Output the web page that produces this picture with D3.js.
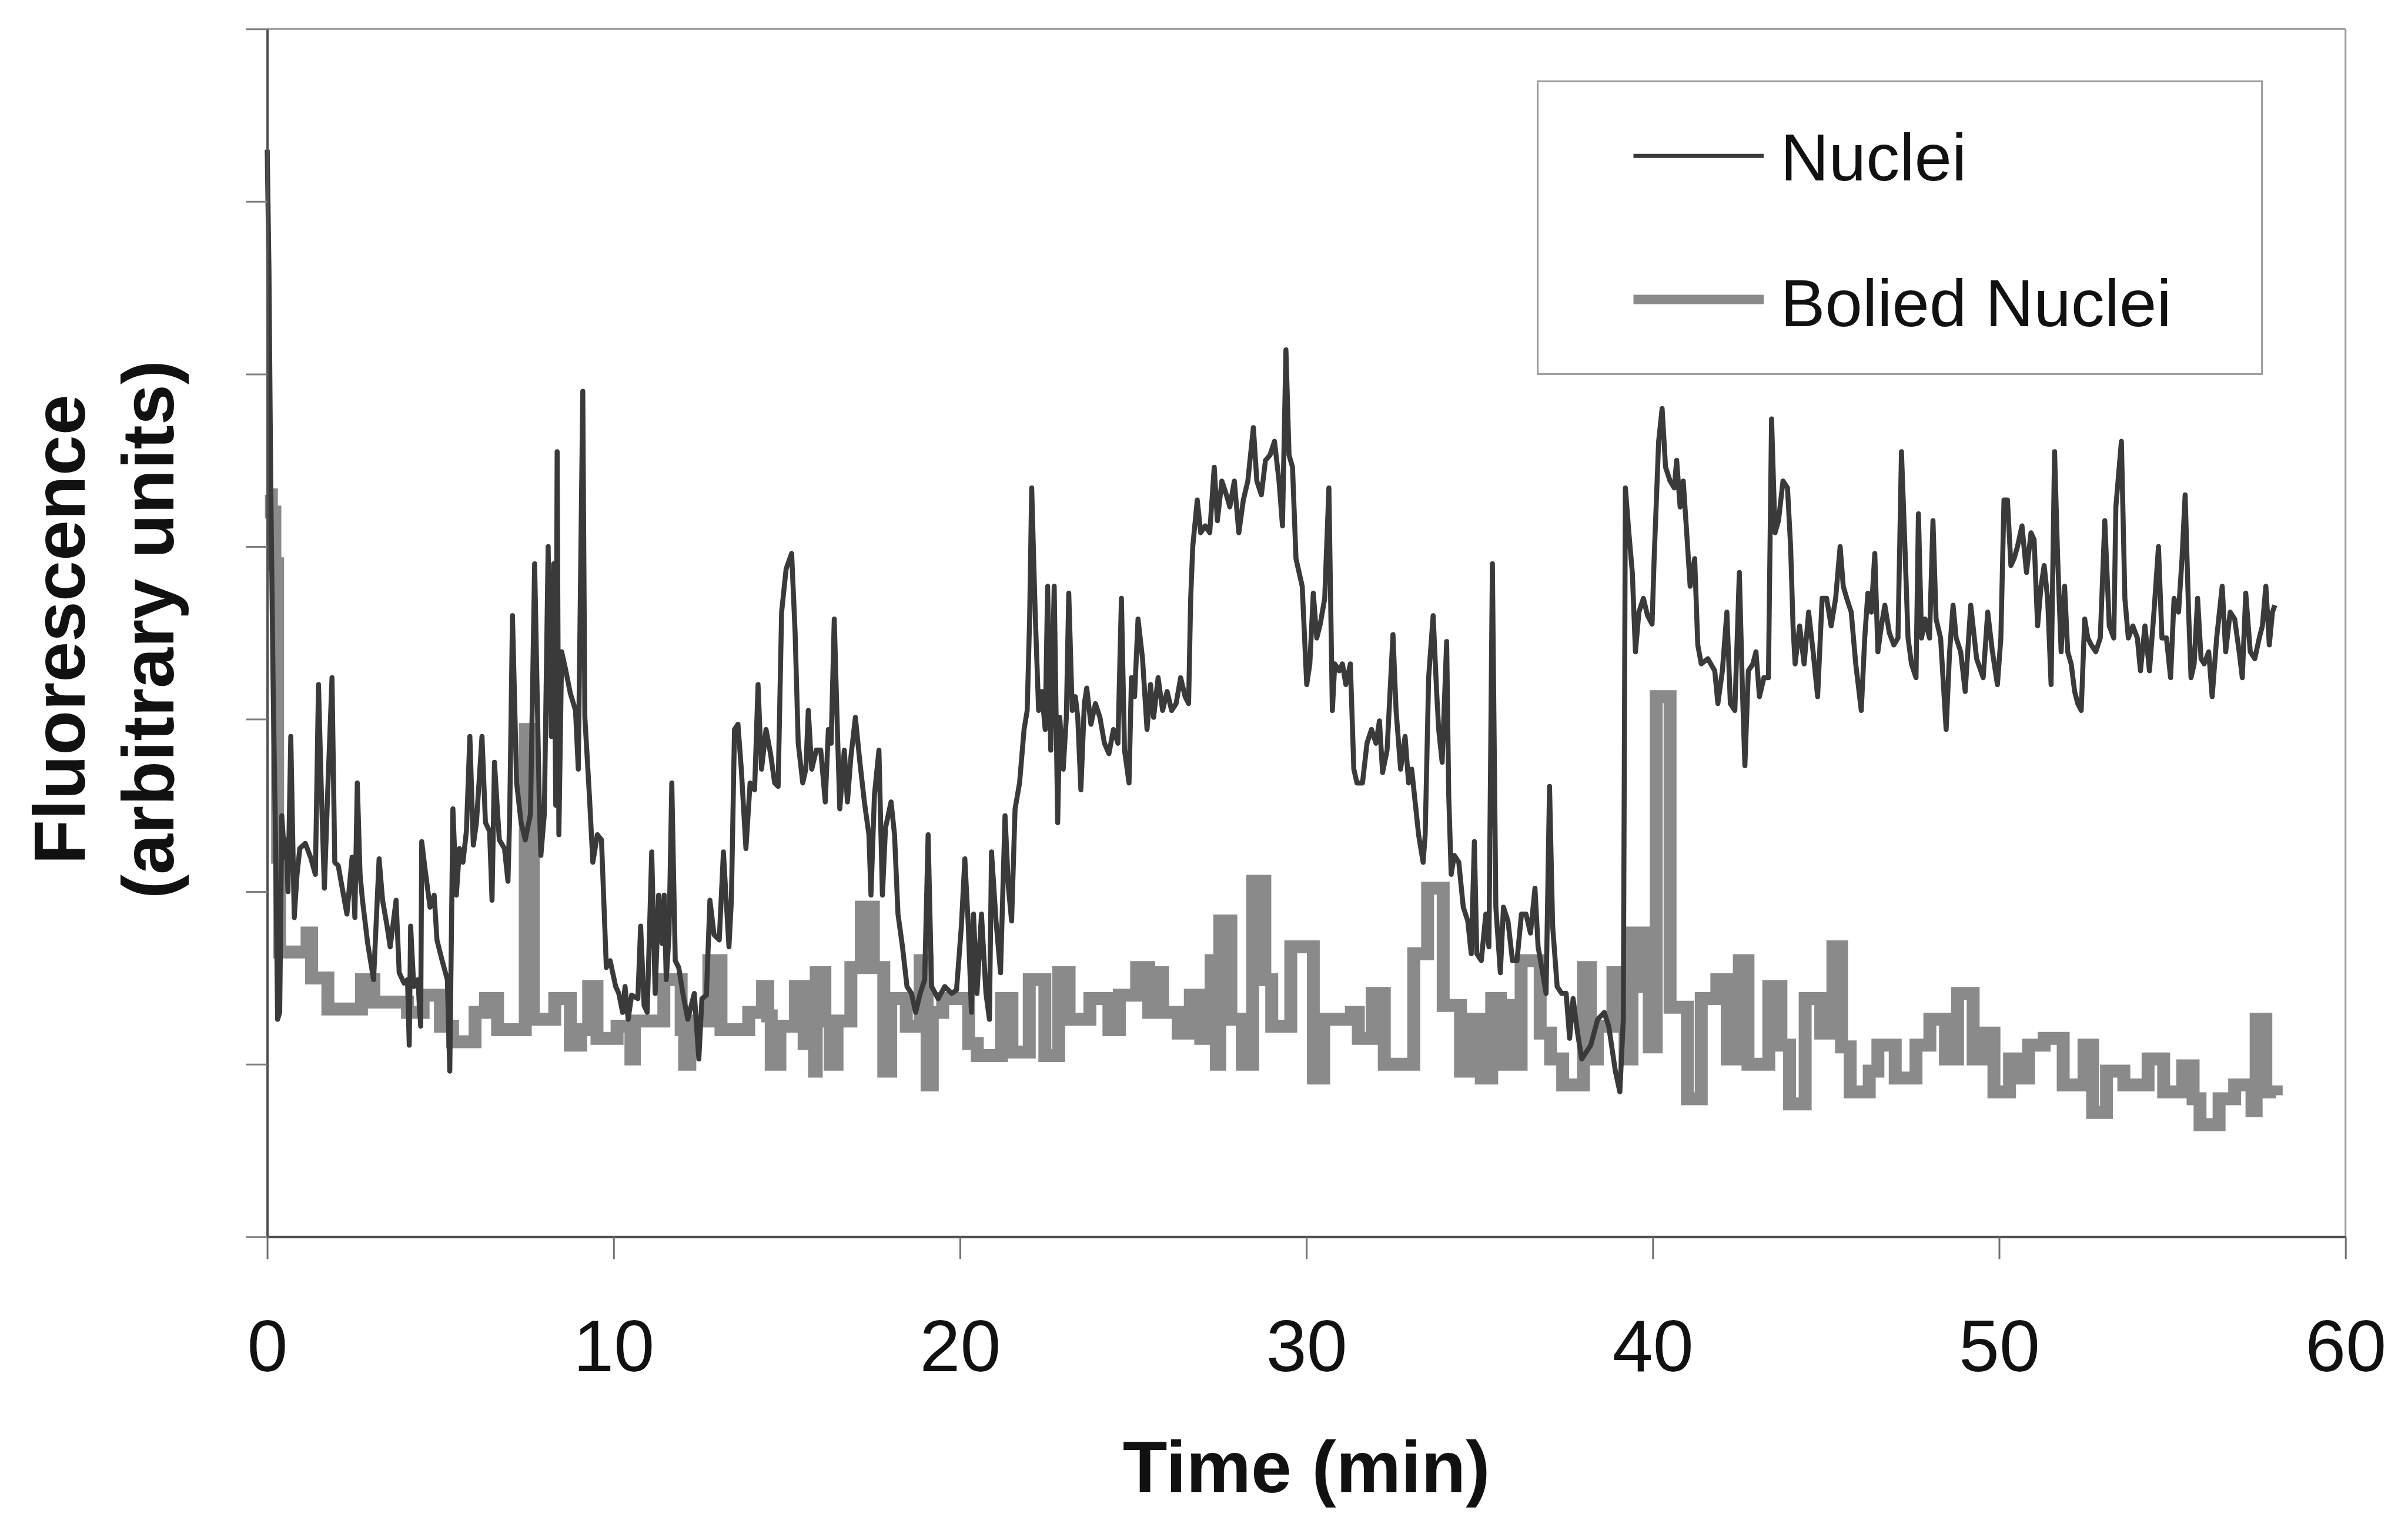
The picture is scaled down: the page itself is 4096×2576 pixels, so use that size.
<!DOCTYPE html>
<html>
<head>
<meta charset="utf-8">
<script src="https://cdn.jsdelivr.net/npm/d3@7"></script>
<style>
  html, body { margin: 0; padding: 0; background: #fff; }
  svg { display: block; }
</style>
</head>
<body>
<script>
// values, [time (min), fluorescence (a.u.)]
const xTicks = [0, 10, 20, 30, 40, 50, 60];
const yTicks = [0, 1, 2, 3, 4, 5, 6, 7];
const seriesNames = ["Nuclei", "Bolied Nuclei"];

const nuclei = [
    [0, 6.3], [0.05, 5.6], [0.1, 4.4], [0.17, 3.2], [0.24, 2.3], [0.3, 1.26], [0.36, 1.3], [0.42, 2.44],
    [0.5, 2.2], [0.55, 2.3], [0.6, 2.0], [0.68, 2.9], [0.78, 1.85], [0.86, 2.1], [0.94, 2.25], [1.1, 2.28],
    [1.25, 2.2], [1.39, 2.1], [1.48, 3.2], [1.56, 2.6], [1.65, 2.02], [1.75, 2.6], [1.87, 3.24], [1.95, 2.17],
    [2.05, 2.15], [2.3, 1.87], [2.45, 2.2], [2.53, 1.85], [2.6, 2.63], [2.68, 2.1], [2.75, 1.95], [2.9, 1.7],
    [3.07, 1.49], [3.23, 2.19], [3.33, 1.95], [3.46, 1.8], [3.55, 1.68], [3.72, 1.95], [3.81, 1.53], [3.95, 1.47],
    [4.05, 1.49], [4.1, 1.11], [4.14, 1.8], [4.23, 1.45], [4.35, 1.49], [4.43, 1.22], [4.46, 2.29], [4.55, 2.14],
    [4.7, 1.91], [4.82, 1.98], [4.9, 1.72], [5.05, 1.6], [5.2, 1.49], [5.27, 0.96], [5.36, 2.48], [5.46, 1.98],
    [5.55, 2.25], [5.65, 2.17], [5.75, 2.35], [5.85, 2.9], [5.95, 2.27], [6.04, 2.4], [6.2, 2.9], [6.3, 2.4],
    [6.42, 2.35], [6.49, 1.95], [6.56, 2.75], [6.7, 2.3], [6.85, 2.25], [6.95, 2.06], [7.0, 2.44], [7.08, 3.6],
    [7.2, 2.63], [7.33, 2.4], [7.45, 2.3], [7.6, 2.45], [7.72, 3.9], [7.85, 2.56], [7.9, 2.21], [8.0, 2.45],
    [8.11, 4.0], [8.2, 2.9], [8.27, 3.9], [8.33, 2.5], [8.37, 4.55], [8.42, 2.33], [8.5, 3.39], [8.6, 3.3],
    [8.75, 3.15], [8.9, 3.05], [8.98, 2.71], [9.11, 4.9], [9.17, 3.01], [9.3, 2.56], [9.4, 2.17], [9.53, 2.33],
    [9.65, 2.3], [9.79, 1.56], [9.9, 1.6], [10.06, 1.45], [10.15, 1.41], [10.26, 1.3], [10.33, 1.45], [10.42, 1.26],
    [10.52, 1.4], [10.7, 1.38], [10.78, 1.8], [10.88, 1.34], [10.97, 1.3], [11.1, 2.23], [11.2, 1.41], [11.3, 1.98],
    [11.4, 1.7], [11.46, 1.98], [11.52, 1.49], [11.6, 1.75], [11.68, 2.63], [11.78, 1.6], [11.88, 1.56], [12.0, 1.41],
    [12.14, 1.26], [12.33, 1.41], [12.46, 1.03], [12.55, 1.38], [12.68, 1.4], [12.78, 1.95], [12.9, 1.75], [13.05, 1.72],
    [13.17, 2.23], [13.23, 2.02], [13.33, 1.68], [13.4, 1.95], [13.49, 2.94], [13.59, 2.97], [13.69, 2.7], [13.82, 2.25],
    [13.94, 2.63], [14.07, 2.59], [14.17, 3.2], [14.27, 2.71], [14.4, 2.94], [14.53, 2.8], [14.65, 2.63], [14.75, 2.61],
    [14.85, 3.62], [14.98, 3.87], [15.14, 3.96], [15.24, 3.5], [15.33, 2.86], [15.46, 2.63], [15.55, 2.71], [15.62, 3.05],
    [15.72, 2.71], [15.85, 2.82], [15.98, 2.82], [16.11, 2.52], [16.2, 2.94], [16.28, 2.86], [16.37, 3.58], [16.46, 2.94],
    [16.53, 2.48], [16.66, 2.82], [16.75, 2.52], [16.85, 2.78], [16.98, 3.01], [17.11, 2.75], [17.24, 2.52], [17.37, 2.33],
    [17.43, 1.98], [17.53, 2.56], [17.66, 2.82], [17.76, 1.98], [17.85, 2.37], [18.01, 2.52], [18.11, 2.33], [18.21, 1.87],
    [18.34, 1.68], [18.47, 1.45], [18.6, 1.41], [18.72, 1.3], [18.85, 1.41], [18.98, 1.49], [19.08, 2.33], [19.18, 1.45],
    [19.37, 1.38], [19.56, 1.45], [19.76, 1.41], [19.9, 1.43], [20.04, 1.8], [20.14, 2.19], [20.24, 1.8], [20.33, 1.3],
    [20.39, 1.87], [20.49, 1.41], [20.62, 1.87], [20.75, 1.41], [20.85, 1.26], [20.91, 2.23], [21.04, 1.83], [21.17, 1.53],
    [21.3, 2.44], [21.4, 2.02], [21.49, 1.83], [21.59, 2.48], [21.72, 2.63], [21.85, 2.94], [21.94, 3.05], [22.01, 3.58],
    [22.07, 4.34], [22.17, 3.62], [22.27, 3.05], [22.36, 3.16], [22.46, 2.94], [22.53, 3.77], [22.62, 2.82], [22.72, 3.77],
    [22.82, 2.4], [22.88, 3.01], [22.98, 2.71], [23.07, 3.01], [23.14, 3.73], [23.24, 3.05], [23.33, 3.13], [23.4, 3.01],
    [23.49, 2.59], [23.59, 3.09], [23.66, 3.18], [23.78, 2.97], [23.91, 3.09], [24.04, 3.01], [24.17, 2.86], [24.3, 2.8],
    [24.43, 2.94], [24.56, 2.86], [24.66, 3.7], [24.75, 2.82], [24.88, 2.63], [24.95, 3.24], [25.04, 3.13], [25.14, 3.58],
    [25.27, 3.35], [25.4, 2.94], [25.5, 3.2], [25.59, 3.01], [25.72, 3.24], [25.85, 3.05], [25.98, 3.16], [26.11, 3.05],
    [26.24, 3.09], [26.37, 3.24], [26.5, 3.13], [26.6, 3.09], [26.66, 3.7], [26.72, 4.0], [26.85, 4.27], [26.95, 4.08],
    [27.08, 4.12], [27.21, 4.08], [27.34, 4.46], [27.43, 4.15], [27.56, 4.38], [27.69, 4.3], [27.79, 4.23], [27.92, 4.38],
    [28.05, 4.08], [28.18, 4.27], [28.31, 4.38], [28.47, 4.69], [28.57, 4.38], [28.7, 4.3], [28.82, 4.5], [28.95, 4.53],
    [29.08, 4.61], [29.21, 4.38], [29.31, 4.12], [29.41, 5.14], [29.5, 4.53], [29.6, 4.46], [29.7, 3.93], [29.79, 3.85],
    [29.88, 3.77], [30.01, 3.2], [30.1, 3.32], [30.2, 3.73], [30.3, 3.47], [30.4, 3.55], [30.53, 3.7], [30.65, 4.34],
    [30.75, 3.05], [30.82, 3.32], [30.95, 3.28], [31.04, 3.32], [31.14, 3.2], [31.27, 3.32], [31.37, 2.71], [31.46, 2.63],
    [31.62, 2.63], [31.75, 2.86], [31.88, 2.94], [32.01, 2.86], [32.11, 2.99], [32.2, 2.69], [32.33, 2.82], [32.5, 3.49],
    [32.59, 3.05], [32.72, 2.71], [32.85, 2.9], [32.95, 2.63], [33.04, 2.71], [33.14, 2.52], [33.24, 2.33], [33.37, 2.17],
    [33.43, 2.33], [33.53, 3.24], [33.66, 3.6], [33.76, 3.16], [33.82, 2.94], [33.92, 2.75], [34.05, 3.45], [34.11, 2.56],
    [34.18, 2.1], [34.27, 2.21], [34.4, 2.17], [34.53, 1.91], [34.66, 1.83], [34.76, 1.64], [34.85, 2.29], [34.92, 1.64],
    [35.05, 1.6], [35.18, 1.87], [35.27, 1.68], [35.37, 3.9], [35.47, 1.91], [35.6, 1.53], [35.69, 1.91], [35.82, 1.83],
    [35.95, 1.6], [36.08, 1.6], [36.21, 1.87], [36.34, 1.87], [36.47, 1.76], [36.6, 2.02], [36.69, 1.68], [36.82, 1.53],
    [36.92, 1.41], [37.02, 2.61], [37.11, 1.8], [37.24, 1.45], [37.37, 1.41], [37.5, 1.41], [37.6, 1.15], [37.7, 1.38],
    [37.83, 1.18], [37.95, 1.03], [38.08, 1.07], [38.21, 1.11], [38.41, 1.26], [38.6, 1.3], [38.73, 1.22], [38.92, 0.96],
    [39.05, 0.84], [39.15, 1.26], [39.21, 4.34], [39.31, 4.08], [39.41, 3.85], [39.5, 3.39], [39.6, 3.62], [39.73, 3.7],
    [39.85, 3.6], [39.98, 3.55], [40.04, 3.93], [40.17, 4.61], [40.27, 4.8], [40.37, 4.46], [40.5, 4.38], [40.62, 4.34],
    [40.69, 4.5], [40.79, 4.23], [40.88, 4.38], [40.98, 4.08], [41.08, 3.77], [41.21, 3.93], [41.3, 3.43], [41.4, 3.32],
    [41.59, 3.35], [41.79, 3.28], [41.88, 3.09], [42.01, 3.28], [42.14, 3.62], [42.24, 3.09], [42.37, 3.05], [42.5, 3.85],
    [42.59, 3.16], [42.66, 2.73], [42.76, 3.28], [42.89, 3.32], [42.98, 3.39], [43.08, 3.13], [43.21, 3.24], [43.34, 3.24],
    [43.43, 4.74], [43.53, 4.08], [43.63, 4.15], [43.76, 4.38], [43.89, 4.34], [43.98, 4.0], [44.05, 3.54], [44.11, 3.32],
    [44.24, 3.54], [44.37, 3.32], [44.5, 3.62], [44.63, 3.39], [44.76, 3.13], [44.89, 3.7], [45.02, 3.7], [45.15, 3.54],
    [45.28, 3.7], [45.41, 4.0], [45.5, 3.77], [45.6, 3.7], [45.73, 3.62], [45.86, 3.32], [46.02, 3.05], [46.12, 3.47],
    [46.21, 3.73], [46.31, 3.62], [46.41, 3.96], [46.5, 3.39], [46.6, 3.54], [46.7, 3.66], [46.83, 3.5], [46.96, 3.43],
    [47.08, 3.47], [47.18, 4.55], [47.28, 4.0], [47.37, 3.47], [47.47, 3.32], [47.6, 3.24], [47.67, 4.19], [47.76, 3.47],
    [47.86, 3.58], [47.99, 3.47], [48.09, 4.15], [48.18, 3.58], [48.31, 3.47], [48.47, 2.94], [48.57, 3.39], [48.67, 3.66],
    [48.76, 3.47], [48.89, 3.39], [49.02, 3.16], [49.18, 3.66], [49.35, 3.35], [49.54, 3.24], [49.67, 3.62], [49.8, 3.4],
    [49.95, 3.2], [50.05, 3.47], [50.14, 4.27], [50.24, 4.27], [50.34, 3.89], [50.43, 3.93], [50.53, 4.0], [50.66, 4.12],
    [50.79, 3.85], [50.92, 4.08], [51.01, 4.04], [51.11, 3.54], [51.21, 3.77], [51.3, 3.89], [51.4, 3.7], [51.5, 3.2],
    [51.6, 4.55], [51.69, 3.93], [51.79, 3.39], [51.89, 3.77], [51.98, 3.39], [52.08, 3.32], [52.18, 3.16], [52.27, 3.09],
    [52.37, 3.05], [52.47, 3.58], [52.56, 3.47], [52.66, 3.43], [52.79, 3.39], [52.92, 3.47], [53.05, 4.15], [53.18, 3.54],
    [53.31, 3.47], [53.37, 4.23], [53.53, 4.61], [53.63, 3.7], [53.73, 3.47], [53.86, 3.54], [53.99, 3.47], [54.08, 3.28],
    [54.21, 3.54], [54.34, 3.28], [54.47, 3.62], [54.6, 4.0], [54.7, 3.47], [54.83, 3.47], [54.95, 3.24], [55.05, 3.7],
    [55.18, 3.62], [55.28, 3.93], [55.37, 4.3], [55.47, 3.62], [55.54, 3.24], [55.63, 3.32], [55.73, 3.7], [55.83, 3.35],
    [55.92, 3.32], [56.05, 3.39], [56.15, 3.13], [56.28, 3.47], [56.44, 3.77], [56.54, 3.39], [56.67, 3.62], [56.8, 3.58],
    [56.93, 3.39], [57.02, 3.24], [57.12, 3.73], [57.25, 3.39], [57.38, 3.35], [57.51, 3.47], [57.6, 3.54], [57.7, 3.77],
    [57.8, 3.43], [57.89, 3.62], [57.96, 3.66]
];

// the boiled trace is step-like, each value holds until the next time
const boiled = [
    [0, 4.3], [0.12, 4.2], [0.22, 3.9], [0.3, 2.2], [0.36, 1.65], [1.15, 1.76], [1.28, 1.5], [1.75, 1.32],
    [2.72, 1.49], [3.08, 1.36], [4.05, 1.3], [4.5, 1.4], [5.0, 1.22], [5.35, 1.13], [6.0, 1.3], [6.3, 1.38],
    [6.65, 1.2], [7.45, 2.94], [7.68, 1.26], [8.3, 1.38], [8.75, 1.11], [9.05, 1.2], [9.28, 1.45], [9.52, 1.15],
    [10.1, 1.22], [10.5, 1.03], [10.6, 1.25], [11.45, 1.49], [11.95, 1.2], [12.05, 1.0], [12.2, 1.25], [12.75, 1.6],
    [13.1, 1.2], [13.9, 1.3], [14.3, 1.45], [14.45, 1.28], [14.55, 1.0], [14.8, 1.22], [15.25, 1.45], [15.5, 1.12],
    [15.8, 0.96], [15.85, 1.53], [16.1, 1.25], [16.25, 1.0], [16.45, 1.25], [16.85, 1.56], [17.15, 1.91], [17.5, 1.56],
    [17.8, 0.96], [18.0, 1.38], [18.45, 1.22], [18.85, 1.6], [19.05, 0.88], [19.2, 1.3], [19.5, 1.38], [20.25, 1.12],
    [20.5, 1.05], [21.2, 1.38], [21.5, 1.07], [22.0, 1.49], [22.45, 1.05], [22.85, 1.53], [23.15, 1.26], [23.75, 1.38],
    [24.3, 1.2], [24.6, 1.4], [25.1, 1.56], [25.45, 1.3], [25.5, 1.53], [25.85, 1.3], [26.3, 1.18], [26.65, 1.4],
    [26.95, 1.15], [27.25, 1.6], [27.4, 1.0], [27.5, 1.83], [27.82, 1.26], [28.15, 1.0], [28.45, 2.06], [28.8, 1.49],
    [29.0, 1.22], [29.55, 1.68], [30.2, 0.92], [30.5, 1.26], [31.3, 1.3], [31.5, 1.15], [31.9, 1.41], [32.25, 1.0],
    [33.1, 1.64], [33.5, 2.02], [33.95, 1.34], [34.45, 0.96], [34.7, 1.26], [35.05, 0.92], [35.35, 1.38], [35.6, 1.0],
    [35.95, 1.34], [36.1, 1.0], [36.2, 1.6], [36.75, 1.18], [37.05, 1.03], [37.4, 0.88], [38.0, 1.56], [38.2, 1.03],
    [38.4, 1.22], [38.85, 1.53], [39.2, 1.03], [39.4, 1.76], [39.75, 1.45], [39.9, 1.1], [40.1, 3.13], [40.5, 1.33],
    [41.0, 0.8], [41.4, 1.38], [41.85, 1.49], [42.15, 1.03], [42.5, 1.6], [42.75, 1.0], [43.35, 1.45], [43.7, 1.11],
    [43.95, 0.77], [44.4, 1.38], [44.85, 1.18], [45.2, 1.68], [45.45, 1.1], [45.7, 0.84], [46.25, 0.96], [46.5, 1.11],
    [47.0, 0.92], [47.6, 1.11], [48.0, 1.26], [48.45, 1.03], [48.8, 1.41], [49.25, 1.03], [49.6, 1.18], [49.85, 0.84],
    [50.3, 1.03], [50.5, 0.92], [50.85, 1.11], [51.3, 1.15], [51.85, 0.88], [52.45, 1.11], [52.7, 0.72], [53.1, 0.96],
    [53.6, 0.88], [54.3, 1.03], [54.75, 0.84], [55.3, 0.99], [55.6, 0.8], [55.8, 0.65], [56.35, 0.8], [56.8, 0.88],
    [57.3, 0.73], [57.42, 1.26], [57.7, 0.84], [58.0, 0.82]
];

function drawChart() {
    // [0] everything measured on the 4325 px reference, then scaled down
    const k = 0.947;
    const width = 4096;
    const height = 2576;
    const left = 480 * k;
    const right = 4213 * k;
    const top = 52 * k;
    const bottom = 2222 * k;
    const font = "Arial, 'Liberation Sans', Helvetica, sans-serif";

    const svg = d3.select("body").append("svg")
        .attr("width", width)
        .attr("height", height)
        .style("background", "#fff");

    // [1] scales
    const x = d3.scaleLinear().domain([0, 60]).range([left, right]);
    const y = d3.scaleLinear().domain([0, 7]).range([bottom, top]);

    // [2] frame: top and right are the lighter part of the box
    svg.append("line")
        .attr("x1", left).attr("x2", right).attr("y1", top).attr("y2", top)
        .attr("stroke", "#9a9a9a").attr("stroke-width", 3);
    svg.append("line")
        .attr("x1", right).attr("x2", right).attr("y1", top).attr("y2", bottom)
        .attr("stroke", "#9a9a9a").attr("stroke-width", 3);

    // [3] lines
    const nucleiLine = d3.line()
        .x(d => x(d[0]))
        .y(d => y(d[1]));

    const boiledLine = d3.line()
        .x(d => x(d[0]))
        .y(d => y(d[1]))
        .curve(d3.curveStepAfter);

    svg.append("path")
        .datum(boiled)
        .attr("fill", "none")
        .attr("stroke", "#8a8a8a")
        .attr("stroke-width", 22)
        .attr("stroke-linejoin", "miter")
        .attr("d", boiledLine);

    svg.append("path")
        .datum(nuclei)
        .attr("fill", "none")
        .attr("stroke", "#3a3a3a")
        .attr("stroke-width", 8.5)
        .attr("stroke-linejoin", "round")
        .attr("d", nucleiLine);

    // [4] axes
    const xAxis = d3.axisBottom(x)
        .tickValues(xTicks)
        .tickSize(38)
        .tickSizeOuter(0);

    svg.append("g")
        .attr("transform", `translate(0,${bottom})`)
        .call(xAxis)
        .call(g => g.select(".domain").attr("stroke", "#505050").attr("stroke-width", 4))
        .call(g => g.selectAll(".tick line").attr("stroke", "#707070").attr("stroke-width", 3))
        .call(g => g.selectAll(".tick text")
            .attr("y", 229)
            .attr("dy", 0)
            .attr("fill", "#111")
            .style("font-family", font)
            .style("font-size", "124px"));

    const yAxis = d3.axisLeft(y)
        .tickValues(yTicks)
        .tickSize(36)
        .tickSizeOuter(0)
        .tickFormat("");

    svg.append("g")
        .attr("transform", `translate(${left},0)`)
        .call(yAxis)
        .call(g => g.select(".domain").attr("stroke", "#505050").attr("stroke-width", 4))
        .call(g => g.selectAll(".tick line").attr("stroke", "#808080").attr("stroke-width", 3));

    // [5] axis titles
    svg.append("text")
        .attr("x", (left + right) / 2)
        .attr("y", 2539)
        .attr("text-anchor", "middle")
        .attr("fill", "#111")
        .style("font-family", font)
        .style("font-weight", "bold")
        .style("font-size", "124px")
        .text("Time (min)");

    const yTitle = svg.append("text")
        .attr("transform", `translate(144,${1131 * k}) rotate(-90)`)
        .attr("text-anchor", "middle")
        .attr("fill", "#111")
        .style("font-family", font)
        .style("font-weight", "bold")
        .style("font-size", "124px");
    yTitle.append("tspan").attr("x", 0).attr("y", 0).text("Fluorescence");
    yTitle.append("tspan").attr("x", 0).attr("y", 151).text("(arbitrary units)");

    // [6] legend
    const legend = svg.append("g");
    legend.append("rect")
        .attr("x", 2762 * k).attr("y", 146 * k)
        .attr("width", (4063 - 2762) * k).attr("height", (672 - 146) * k)
        .attr("fill", "#fff")
        .attr("stroke", "#9a9a9a")
        .attr("stroke-width", 3);

    const legendRows = [
        { name: seriesNames[0], color: "#3a3a3a", width: 7, lineY: 280, textY: 324 },
        { name: seriesNames[1], color: "#8a8a8a", width: 16, lineY: 538, textY: 586 }
    ];

    legendRows.forEach(r => {
        legend.append("line")
            .attr("x1", 2934 * k).attr("x2", 3168 * k)
            .attr("y1", r.lineY * k).attr("y2", r.lineY * k)
            .attr("stroke", r.color)
            .attr("stroke-width", r.width);
        legend.append("text")
            .attr("x", 3198 * k)
            .attr("y", r.textY * k)
            .attr("fill", "#111")
            .style("font-family", font)
            .style("font-size", "114px")
            .text(r.name);
    });
}

drawChart();
</script>
</body>
</html>
